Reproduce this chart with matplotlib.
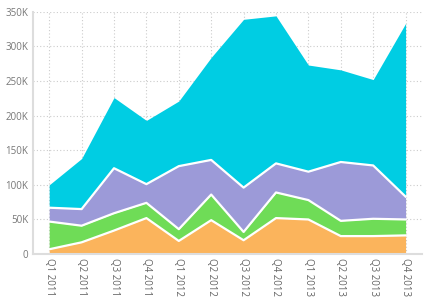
import matplotlib
matplotlib.use("Agg")
import matplotlib.pyplot as plt
import numpy as np
from matplotlib.ticker import FuncFormatter

quarters = ["Q1 2011", "Q2 2011", "Q3 2011", "Q4 2011", "Q1 2012", "Q2 2012",
            "Q3 2012", "Q4 2012", "Q1 2013", "Q2 2013", "Q3 2013", "Q4 2013"]
orange = [7, 17, 34, 52, 19, 49, 20, 52, 50, 26, 26, 27]
green = [40, 24, 25, 22, 17, 37, 12, 37, 28, 22, 25, 23]
purple = [20, 24, 65, 27, 91, 50, 64, 42, 41, 85, 77, 33]
cyan = [33, 73, 102, 92, 94, 148, 243, 213, 154, 133, 124, 250]

colors = ["#FBB45C", "#6FDC57", "#9C9AD8", "#00CDE3"]
series = [orange, green, purple, cyan]

plt.rcParams["font.family"] = ["Open Sans", "DejaVu Sans"]

fig = plt.figure(figsize=(4.31, 3.0), dpi=100)
ax = fig.add_axes([0.0766, 0.153, 0.902, 0.808])
x = np.arange(len(quarters))
base = np.zeros(len(quarters))
for vals, c in zip(series, colors):
    top = base + np.array(vals) * 1000
    ax.fill_between(x, base, top, color=c, linewidth=0, zorder=2)
    base = top
# white boundary lines between layers
base = np.zeros(len(quarters))
for vals in series[:-1]:
    base = base + np.array(vals) * 1000
    ax.plot(x, base, color="white", linewidth=1.6, zorder=3)

ax.set_xlim(-0.5, 11.5)
ax.set_ylim(0, 350000)
ax.set_yticks(np.arange(0, 350001, 50000))
ax.yaxis.set_major_formatter(FuncFormatter(lambda v, p: "0" if v == 0 else f"{int(v/1000)}K"))
ax.set_xticks(x)
ax.set_xticklabels(quarters, rotation=270, fontsize=7, color="#666666")
ax.tick_params(axis="y", labelsize=7, labelcolor="#777777", length=0, pad=3.5)
ax.tick_params(axis="x", length=0, pad=2.5)
ax.grid(True, color="#cccccc", linestyle=(0, (1, 2)), linewidth=0.8, zorder=0)
ax.set_axisbelow(True)
for s in ["top", "right"]:
    ax.spines[s].set_visible(False)
ax.spines["left"].set_color("#dddddd")
ax.spines["left"].set_linewidth(1.5)
ax.spines["bottom"].set_color("#dddddd")
ax.spines["bottom"].set_linewidth(1.5)

fig.savefig("out.png", dpi=100)
